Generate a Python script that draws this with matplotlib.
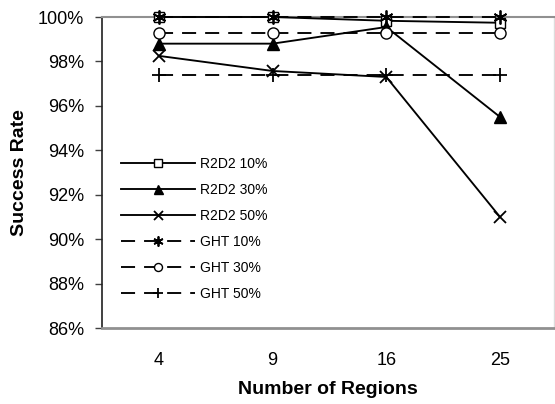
import matplotlib
matplotlib.use("Agg")
import matplotlib.pyplot as plt
from matplotlib.ticker import FuncFormatter

plt.rcParams['font.family'] = ['Liberation Sans', 'DejaVu Sans']

regions = ["4", "9", "16", "25"]
r2d2_10 = [100.0, 100.0, 99.83, 99.74]
r2d2_30 = [98.8, 98.8, 99.55, 95.5]
r2d2_50 = [98.25, 97.57, 97.3, 91.0]
ght_10 = [100.0, 100.0, 100.0, 100.0]
ght_30 = [99.3, 99.3, 99.3, 99.3]
ght_50 = [97.4, 97.4, 97.4, 97.4]
y_ticks = [86, 88, 90, 92, 94, 96, 98, 100]

W, H = 555, 404
fig = plt.figure(figsize=(W / 100, H / 100), dpi=100)
ax = fig.add_axes([102 / W, 1 - 328 / H, (554 - 102) / W, (328 - 17) / H])

x = list(range(len(regions)))
dash = (0, (7.5, 4.8))
series = [
    (r2d2_10, "R2D2 10%", dict(linestyle="-", marker="s", mfc="white", ms=7.5)),
    (r2d2_30, "R2D2 30%", dict(linestyle="-", marker="^", mfc="black", ms=9)),
    (r2d2_50, "R2D2 50%", dict(linestyle="-", marker="x", ms=9, mew=1.3)),
    (ght_10, "GHT 10%", dict(linestyle=dash, marker=(6, 2, 0), ms=10, mew=1.3)),
    (ght_30, "GHT 30%", dict(linestyle=dash, marker="o", mfc="white", ms=8)),
    (ght_50, "GHT 50%", dict(linestyle=dash, marker="+", ms=10, mew=1.3)),
]
for vals, label, style in series:
    ax.plot(x, vals, color="black", lw=1.35, mec="black", label=label,
            clip_on=False, zorder=3, **style)

ax.set_xlim(-0.5, 3.475)
ax.set_ylim(86, 100)
ax.set_yticks(y_ticks)
ax.yaxis.set_major_formatter(FuncFormatter(lambda v, p: f"{v:.0f}%"))
ax.set_xticks(x)
ax.set_xticklabels(regions)
ax.tick_params(axis="y", direction="out", length=5, width=1, color="#404040",
               labelsize=13, pad=8)
ax.tick_params(axis="x", length=0, labelsize=13, pad=17)

ax.spines["left"].set_color("#202020")
ax.spines["left"].set_linewidth(1.2)
ax.spines["top"].set_color("#909090")
ax.spines["top"].set_linewidth(1.5)
ax.spines["bottom"].set_color("#909090")
ax.spines["bottom"].set_linewidth(2)
ax.spines["right"].set_color("#dddddd")
ax.spines["right"].set_linewidth(1)

ax.set_ylabel("Success Rate", fontsize=14, fontweight="bold", labelpad=7)
ax.set_xlabel("Number of Regions", fontsize=14, fontweight="bold", labelpad=9)

fig.legend(loc="upper left", bbox_to_anchor=(121 / W, 1 - 157 / H),
           frameon=False, fontsize=10, handlelength=5.3, handletextpad=0.36,
           labelspacing=0.86, markerscale=0.72, borderaxespad=0, borderpad=0)

fig.savefig("out.png", dpi=100)
